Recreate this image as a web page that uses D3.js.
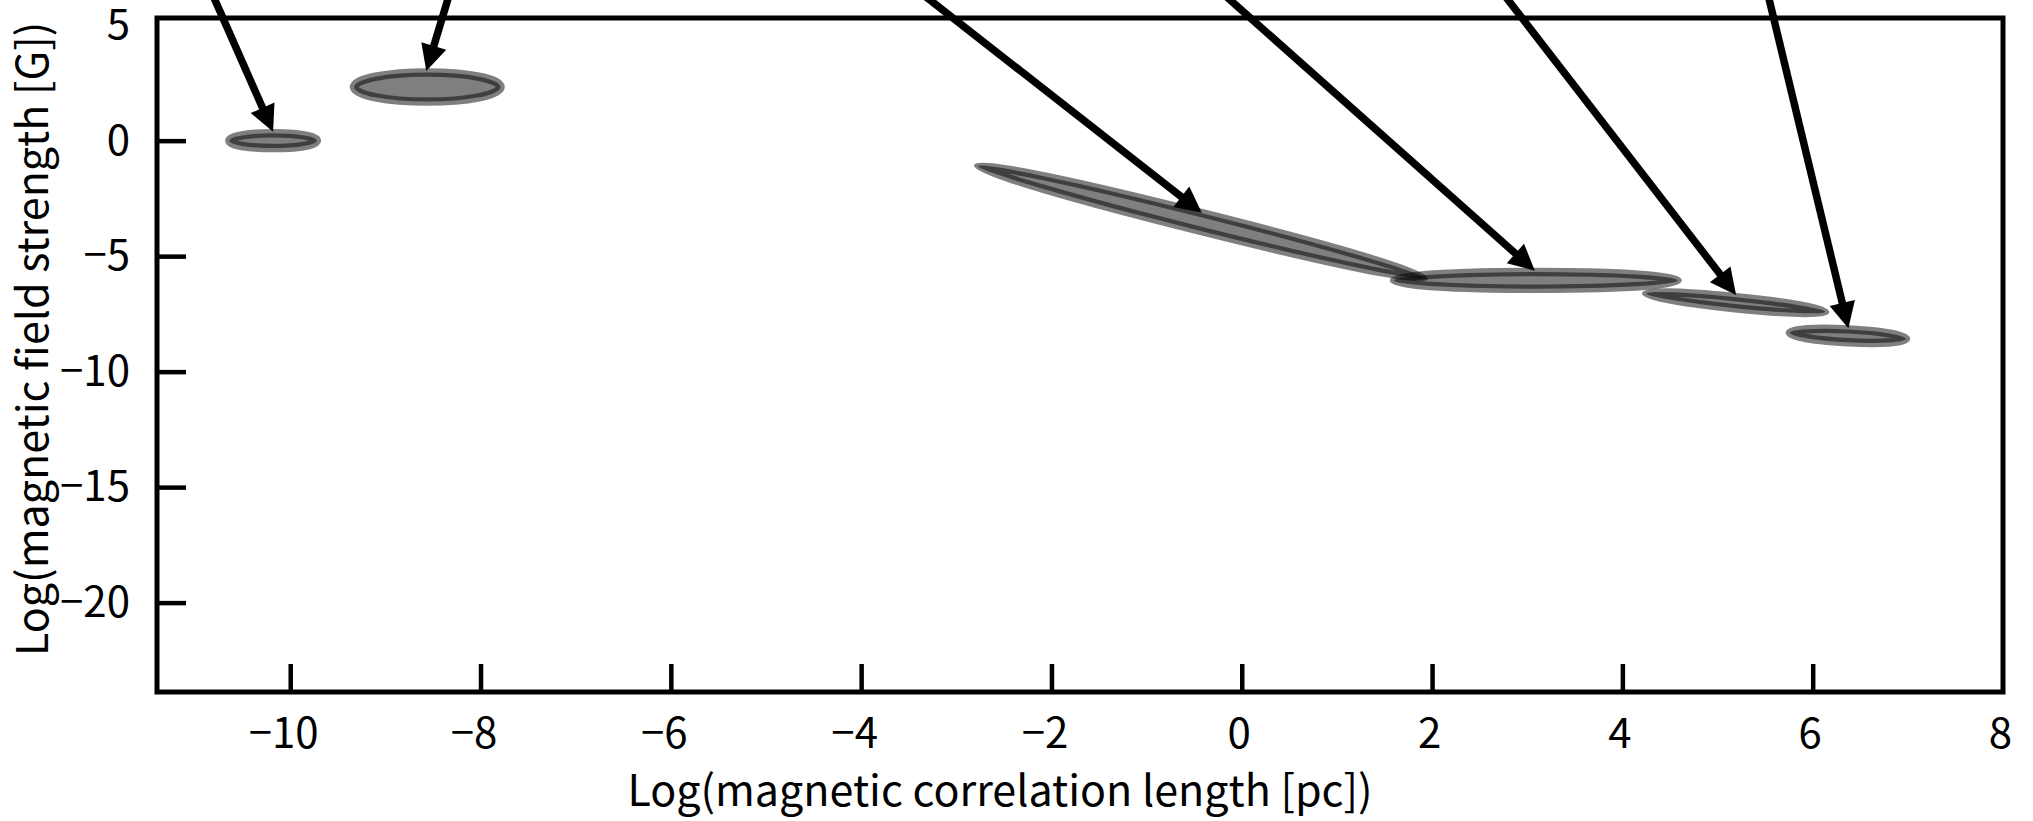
<!DOCTYPE html>
<html>
<head>
<meta charset="utf-8">
<script src="https://cdn.jsdelivr.net/npm/d3@7"></script>
<style>
    body { margin: 0; background: #fff; }
    text { font-family: "Noto Sans CJK KR", "Noto Sans", sans-serif; }
</style>
</head>
<body>
<svg id="fig" width="2033" height="821"></svg>
<script>
// axis ticks
var xTicks = [-10, -8, -6, -4, -2, 0, 2, 4, 6, 8];
var yTicks = [-20, -15, -10, -5, 0, 5];

// regions: major axis end points (log l, log B) and vertical half thickness (log B)
var regionX1 = [-10.64, -9.33, -2.77, 1.60, 4.25, 5.76];
var regionY1 = [0.00, 2.32, -1.10, -6.05, -6.62, -8.32];
var regionX2 = [-9.72, -7.79, 1.91, 4.58, 6.13, 6.98];
var regionY2 = [0.00, 2.32, -5.94, -6.05, -7.41, -8.58];
var regionHalf = [0.32, 0.63, 0.39, 0.36, 0.24, 0.28];

// arrows pointing at regions (from above the plot)
var arrowTipX = [-10.18, -8.57, -0.42, 3.08, 5.195, 6.375];
var arrowTipY = [0.39, 3.02, -3.12, -5.63, -6.68, -8.12];
var arrowFromX = [-11.21, -8.06, -4.49, -1.19, 2.065, 5.315];
var arrowFromY = [10, 10, 10, 10, 10, 10];

var svg = d3.select("#fig");
var pL = 157, pR = 2003, pT = 18, pB = 692;

var x = d3.scaleLinear().domain([-11.4, 8]).range([pL, pR]);
var y = d3.scaleLinear().domain([-23.87, 5.31]).range([pB, pT]);

// regions
var regions = d3.range(regionX1.length).map(function(i) {
    var x1 = x(regionX1[i]), y1 = y(regionY1[i]);
    var x2 = x(regionX2[i]), y2 = y(regionY2[i]);
    var ang = Math.atan2(y2 - y1, x2 - x1);
    var half = (y(0) - y(regionHalf[i])) * Math.cos(ang);
    return {cx: (x1 + x2) / 2, cy: (y1 + y2) / 2,
            rx: Math.hypot(x2 - x1, y2 - y1) / 2, ry: half,
            deg: ang * 180 / Math.PI};
});

svg.append("g").selectAll("ellipse").data(regions)
   .enter()
   .append("ellipse")
   .attr("cx", d => d.cx)
   .attr("cy", d => d.cy)
   .attr("rx", d => d.rx)
   .attr("ry", d => d.ry)
   .attr("transform", d => "rotate(" + d.deg + "," + d.cx + "," + d.cy + ")")
   .attr("fill", "black")
   .attr("fill-opacity", 0.5)
   .attr("stroke", "black")
   .attr("stroke-opacity", 0.5)
   .attr("stroke-width", 8.5);

// frame
svg.append("rect")
   .attr("x", pL).attr("y", pT)
   .attr("width", pR - pL).attr("height", pB - pT)
   .attr("fill", "none")
   .attr("stroke", "black")
   .attr("stroke-width", 5);

// axes
var xAxis = svg.append("g")
   .attr("transform", "translate(0," + pB + ")")
   .call(d3.axisBottom(x).tickValues(xTicks).tickSize(-28).tickSizeOuter(0).tickPadding(26));

var yAxis = svg.append("g")
   .attr("transform", "translate(" + pL + ",0)")
   .call(d3.axisLeft(y).tickValues(yTicks).tickSize(-29).tickSizeOuter(0).tickPadding(27));

[xAxis, yAxis].forEach(function(ax) {
    ax.attr("font-size", null).attr("font-family", null);
    ax.select(".domain").remove();
    ax.selectAll(".tick line").attr("stroke-width", 4.5);
    ax.selectAll(".tick text").attr("font-size", 42).attr("fill", "black");
});
yAxis.selectAll(".tick").filter(d => d === 5).select("line").remove();
xAxis.selectAll(".tick").filter(d => d === 8).select("line").remove();
// labels sit a little left of their ticks in the original
xAxis.selectAll(".tick text").attr("dx", d => d < 0 ? -7 : -3);

// axis titles
svg.append("text")
   .attr("x", 1000).attr("y", 806)
   .attr("text-anchor", "middle")
   .attr("font-size", 43)
   .text("Log(magnetic correlation length [pc])");

svg.append("text")
   .attr("transform", "translate(48,656) rotate(-90)")
   .attr("text-anchor", "start")
   .attr("font-size", 43)
   .text("Log(magnetic field strength [G])");

// arrows
var headLen = 26, headHalf = 13;
d3.range(arrowTipX.length).forEach(function(i) {
    var tx = x(arrowTipX[i]), ty = y(arrowTipY[i]);
    var fx = x(arrowFromX[i]), fy = y(arrowFromY[i]);
    var len = Math.hypot(tx - fx, ty - fy);
    var ux = (tx - fx) / len, uy = (ty - fy) / len;
    var bx = tx - ux * headLen, by = ty - uy * headLen;

    svg.append("line")
       .attr("x1", fx).attr("y1", fy)
       .attr("x2", bx + ux * 2).attr("y2", by + uy * 2)
       .attr("stroke", "black")
       .attr("stroke-width", 7.5);

    svg.append("path")
       .attr("d", d3.line()([[tx, ty],
                             [bx - uy * headHalf, by + ux * headHalf],
                             [bx + uy * headHalf, by - ux * headHalf]]) + "Z")
       .attr("fill", "black");
});
</script>
</body>
</html>
